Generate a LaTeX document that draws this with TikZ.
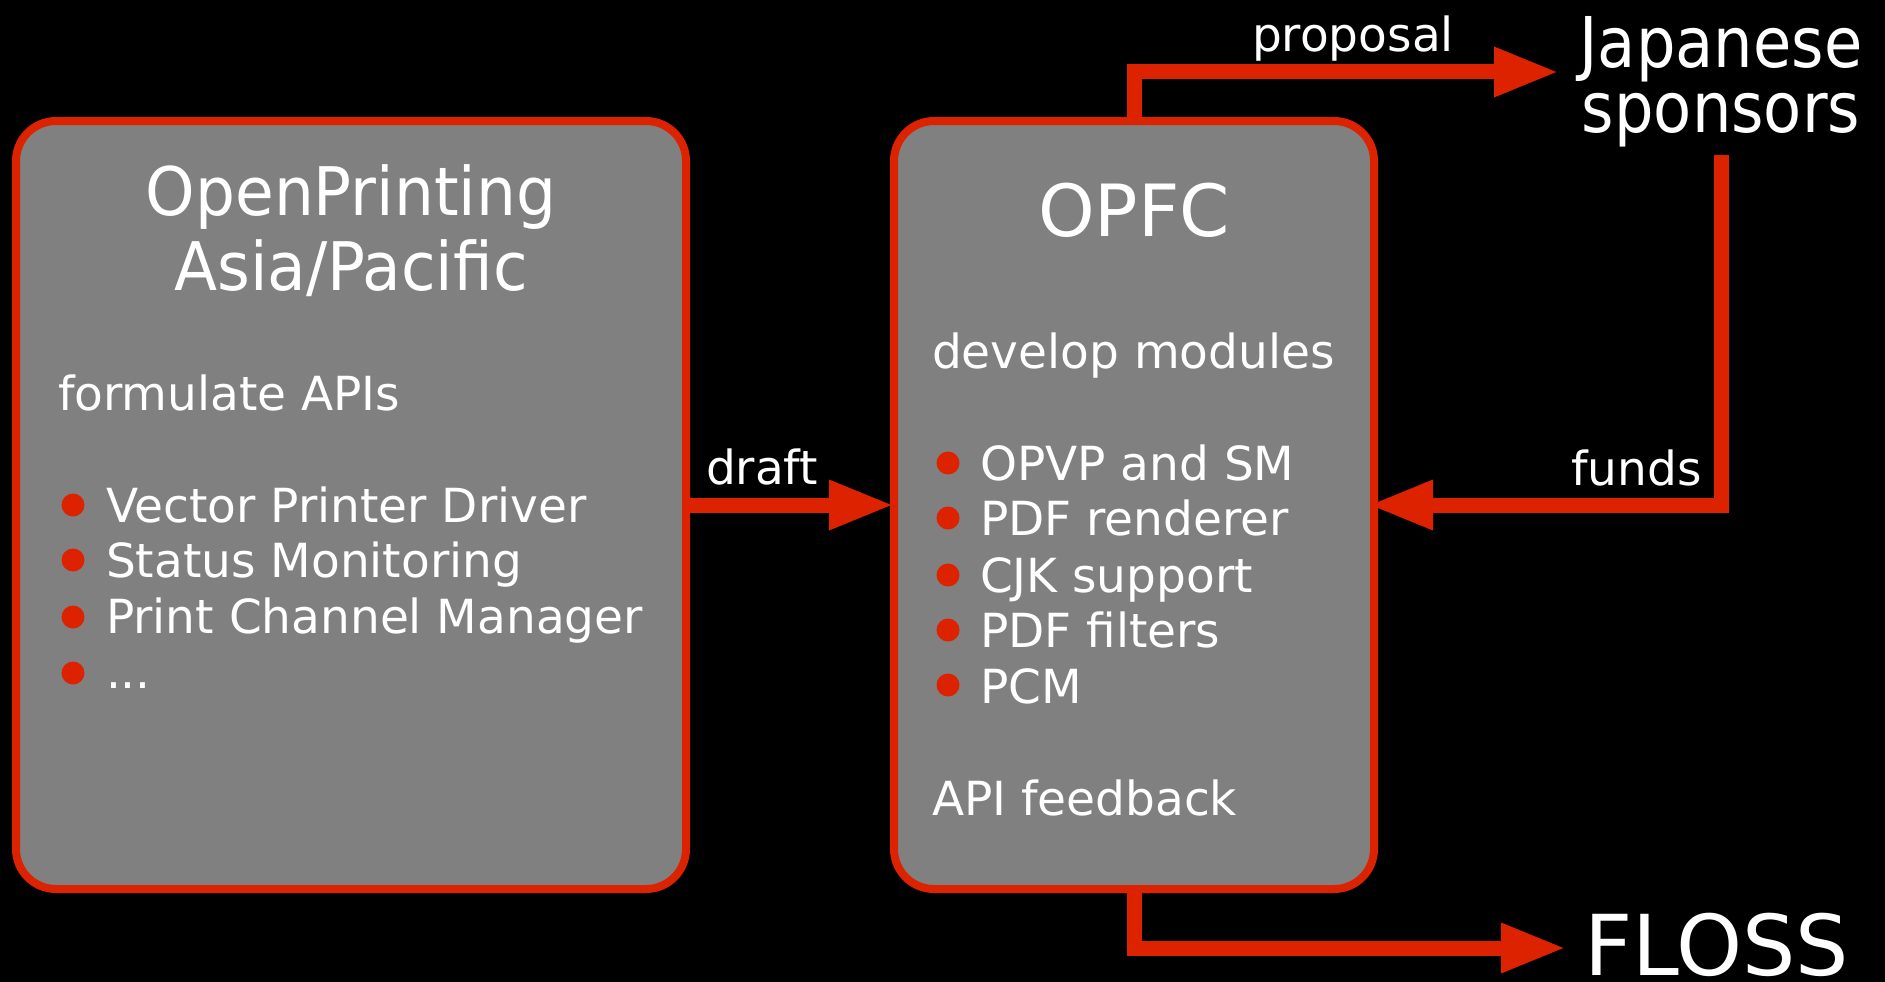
\documentclass[tikz,border=0pt]{standalone}
\usepackage{fontspec}
\setmainfont{DejaVu Sans}
\newfontfamily\titlefont[FakeStretch=0.94]{DejaVu Sans}
\newfontfamily\jpfont[FakeStretch=0.89]{DejaVu Sans}
\usetikzlibrary{arrows.meta}
\definecolor{ored}{RGB}{221,34,0}
\definecolor{ogray}{RGB}{128,128,128}
\begin{document}
\begin{tikzpicture}[x=1pt,y=-1pt,
  box/.style={rectangle, draw=ored, fill=ogray, line width=8pt, rounded corners=40pt,
    minimum width=#1, minimum height=768pt, inner sep=0pt, outer sep=0pt},
  txt/.style={text=white, inner sep=0pt, outer sep=0pt, anchor=base west,
    font=\fontsize{47}{47}\selectfont},
  ttl/.style={text=white, inner sep=0pt, outer sep=0pt, anchor=base,
    font=\titlefont\fontsize{67}{67}\selectfont},
  opfcttl/.style={text=white, inner sep=0pt, outer sep=0pt, anchor=base,
    font=\fontsize{72}{72}\selectfont},
  jpttl/.style={text=white, inner sep=0pt, outer sep=0pt, anchor=base,
    font=\jpfont\fontsize{70}{70}\selectfont},
  flossttl/.style={text=white, inner sep=0pt, outer sep=0pt, anchor=base west,
    font=\fontsize{84}{84}\selectfont},
  dot/.style={circle, fill=ored, minimum size=23pt, inner sep=0pt, outer sep=0pt},
  link/.style={draw=ored, line width=15pt, -{Triangle[length=65pt,width=46pt]}}
]
\fill[black] (0,0) rectangle (1885,982);
\useasboundingbox (0,0) rectangle (1885,982);

% boxes
\node[box=670pt] (ap) at (351,505) {};
\node[box=480pt] (opfc) at (1134,505) {};

% left box text
\node[ttl] (t1) at (351,215) {OpenPrinting};
\node[ttl] (t2) at (351,290) {Asia/Pacific};
\node[txt] (fa) at (58,410) {formulate APIs};
\node[dot] (d1) at (73,505) {};
\node[dot] (d2) at (73,560) {};
\node[dot] (d3) at (73,617) {};
\node[dot] (d4) at (73,673) {};
\node[txt] (l1) at (106,522) {Vector Printer Driver};
\node[txt] (l2) at (106,577) {Status Monitoring};
\node[txt] (l3) at (106,633) {Print Channel Manager};
\node[txt] (l4) at (106,688) {...};

% middle box text
\node[opfcttl] (ot) at (1134,236) {OPFC};
\node[txt] (dm) at (932,368) {develop modules};
\node[dot] (e1) at (948,463) {};
\node[dot] (e2) at (948,518) {};
\node[dot] (e3) at (948,575) {};
\node[dot] (e4) at (948,630) {};
\node[dot] (e5) at (948,685) {};
\node[txt] (m1) at (980,480) {OPVP and SM};
\node[txt] (m2) at (980,535) {PDF renderer};
\node[txt] (m3) at (980,592) {CJK support};
\node[txt] (m4) at (980,647) {PDF filters};
\node[txt] (m5) at (980,703) {PCM};
\node[txt] (af) at (932,815) {API feedback};

% outside labels
\node[txt] (draft) at (706,484) {draft};
\node[txt] (funds) at (1571,485) {funds};
\node[txt] (prop) at (1252,52) {proposal};
\node[jpttl] (jp1) at (1721,67) {Japanese};
\node[jpttl] (jp2) at (1721,132) {sponsors};
\node[flossttl] (floss) at (1584,975) {FLOSS};

% connectors
\coordinate (pc) at (1134,72);
\coordinate (ptip) at (1559,72);
\coordinate (fs) at (1721,155);
\coordinate (fc) at (1721,505);
\coordinate (lc) at (1134,948);
\coordinate (ltip) at (1566,948);

\draw[link] (ap.east) -- (opfc.west);
\draw[link, shorten >=-6pt] (fs) -- (fc) -- (opfc.east);
\draw[link] (opfc.north) -- (pc) -- (ptip);
\draw[link] (opfc.south) -- (lc) -- (ltip);
\end{tikzpicture}
\end{document}
